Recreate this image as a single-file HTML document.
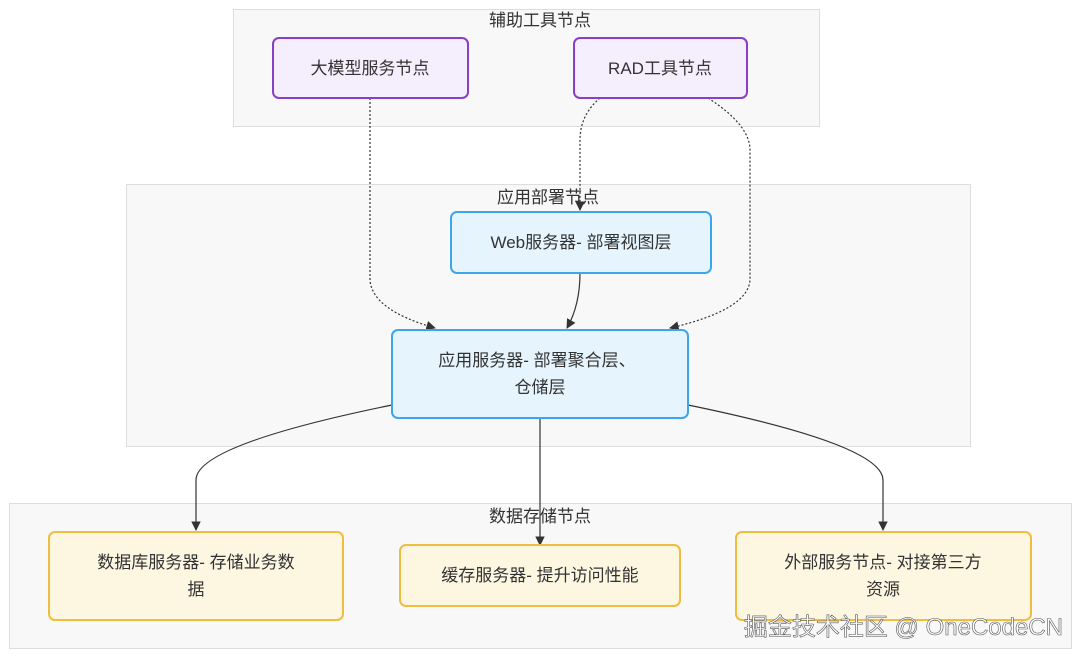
<!DOCTYPE html>
<html><head><meta charset="utf-8"><style>
html,body{margin:0;padding:0;background:#fff;}
svg{display:block;font-family:"Liberation Sans","Noto Sans CJK SC",sans-serif;}
</style></head><body>
<svg width="1080" height="658" viewBox="0 0 1080 658" xmlns="http://www.w3.org/2000/svg">
<defs>
<marker id="a" viewBox="0 0 10 10" refX="9" refY="5" markerWidth="8" markerHeight="8" orient="auto"><path d="M0,0L10,5L0,10z" fill="#333"/></marker>
</defs>
<rect x="233.5" y="9.5" width="586" height="117" fill="#f8f8f8" stroke="#ddd"/>
<rect x="126.5" y="184.5" width="844" height="262" fill="#f8f8f8" stroke="#ddd"/>
<rect x="9.5" y="503.5" width="1062" height="145" fill="#f8f8f8" stroke="#ddd"/>
<g font-size="17" fill="#333" text-anchor="middle">
<text x="540" y="26">辅助工具节点</text>
<text x="548" y="203">应用部署节点</text>
<text x="540" y="522">数据存储节点</text>
</g>
<g fill="none" stroke="#333" stroke-width="1.2">
<path d="M370,98 L370,280 Q372,310 435,328" stroke-dasharray="2,2" marker-end="url(#a)"/>
<path d="M600,98 Q580,115 580,140 L580,210" stroke-dasharray="2,2" marker-end="url(#a)"/>
<path d="M708,98 Q750,125 750,150 L750,280 Q748,310 670,328" stroke-dasharray="2,2" marker-end="url(#a)"/>
<path d="M580,273 Q580,305 567,328" marker-end="url(#a)"/>
<path d="M392,405 Q196,445 196,480 L196,530" marker-end="url(#a)"/>
<path d="M540,418 L540,545" marker-end="url(#a)"/>
<path d="M688,405 Q883,445 883,480 L883,530" marker-end="url(#a)"/>
</g>
<rect x="273" y="38" width="195" height="60" rx="6" fill="#f5eefd" stroke="#8a3fc4" stroke-width="2"/>
<rect x="574" y="38" width="173" height="60" rx="6" fill="#f5eefd" stroke="#8a3fc4" stroke-width="2"/>
<rect x="451" y="212" width="260" height="61" rx="6" fill="#e6f5fd" stroke="#3da5ea" stroke-width="2"/>
<rect x="392" y="330" width="296" height="88" rx="6" fill="#e6f5fd" stroke="#3da5ea" stroke-width="2"/>
<rect x="49" y="532" width="294" height="88" rx="6" fill="#fdf6e1" stroke="#efbd3f" stroke-width="2"/>
<rect x="400" y="545" width="280" height="61" rx="6" fill="#fdf6e1" stroke="#efbd3f" stroke-width="2"/>
<rect x="736" y="532" width="295" height="88" rx="6" fill="#fdf6e1" stroke="#efbd3f" stroke-width="2"/>
<g font-size="17" fill="#333" text-anchor="middle">
<text x="370" y="74">大模型服务节点</text>
<text x="660" y="74">RAD工具节点</text>
<text x="581" y="248">Web服务器- 部署视图层</text>
<text x="537" y="366">应用服务器- 部署聚合层、</text>
<text x="540" y="393">仓储层</text>
<text x="196" y="568">数据库服务器- 存储业务数</text>
<text x="196" y="595">据</text>
<text x="540" y="581">缓存服务器- 提升访问性能</text>
<text x="883" y="568">外部服务节点- 对接第三方</text>
<text x="883" y="595">资源</text>
</g>
<text x="1063" y="635" font-size="24" fill="#fff" stroke="#555" stroke-width="0.6" text-anchor="end">掘金技术社区 @ OneCodeCN</text>
</svg>
</body></html>
